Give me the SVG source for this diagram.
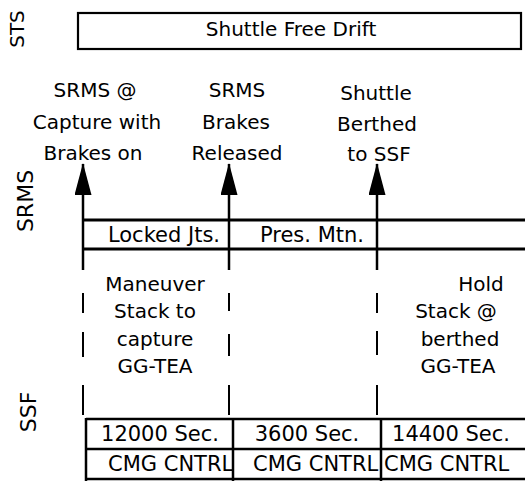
<svg xmlns="http://www.w3.org/2000/svg" width="525" height="481" viewBox="0 0 525 481">
<style>
text{font-family:"DejaVu Sans","Liberation Sans",sans-serif;fill:#000;}
.t20{font-size:20px;text-anchor:middle;}
.t21{font-size:21px;text-anchor:middle;}
.lane{text-anchor:middle;}
.box{fill:#fff;stroke:#000;stroke-width:2.2;}
.ln{stroke:#000;stroke-width:2.5;fill:none;}
.thick{stroke:#000;stroke-width:3;fill:none;}
.dash{stroke:#000;stroke-width:2;fill:none;}
</style>
<defs>
<marker id="ah" markerWidth="32" markerHeight="17" refX="31" refY="8.5" orient="auto" markerUnits="userSpaceOnUse" viewBox="0 0 32 17">
<path d="M32,8.5 L0,0 L0,17 Z" fill="#000"/>
</marker>
</defs>

<g id="lane-labels">
<text class="lane" transform="translate(24,29) rotate(-90)" style="font-size:20px">STS</text>
<text class="lane" transform="translate(33,201) rotate(-90)" style="font-size:22px">SRMS</text>
<text class="lane" transform="translate(36,412) rotate(-90)" style="font-size:22px">SSF</text>
</g>

<g id="sts-free-drift">
<rect class="box" x="78" y="13" width="443" height="36"/>
<text class="t20" x="291" y="36">Shuttle Free Drift</text>
</g>

<g id="event-capture">
<text class="t20" x="95" y="97">SRMS @</text>
<text class="t20" x="97" y="129">Capture with</text>
<text class="t20" x="93" y="160">Brakes on</text>
</g>
<g id="event-release">
<text class="t20" x="237" y="97">SRMS</text>
<text class="t20" x="236" y="129">Brakes</text>
<text class="t20" x="237" y="160">Released</text>
</g>
<g id="event-berthed">
<text class="t20" x="376" y="100">Shuttle</text>
<text class="t20" x="377" y="131">Berthed</text>
<text class="t20" x="379" y="161">to SSF</text>
</g>

<g id="connectors">
<path class="ln" d="M83,270 V164" marker-end="url(#ah)"/>
<path class="ln" d="M229,270 V164" marker-end="url(#ah)"/>
<path class="ln" d="M377,270 V164" marker-end="url(#ah)"/>
<path class="dash" d="M83,293 V313 M83,332 V357 M83,385 V415"/>
<path class="dash" d="M229,293 V311 M229,334 V356 M229,385 V415"/>
<path class="dash" d="M377,293 V313 M377,331 V355 M377,385 V415"/>
</g>

<g id="srms-band">
<path class="thick" d="M83,220 H525 M83,249 H525"/>
<text class="t21" x="164" y="242">Locked Jts.</text>
<text class="t21" x="312" y="242">Pres. Mtn.</text>
</g>

<g id="maneuver">
<text class="t20" x="155" y="291">Maneuver</text>
<text class="t20" x="155" y="318">Stack to</text>
<text class="t20" x="155" y="346">capture</text>
<text class="t20" x="155" y="373">GG-TEA</text>
</g>
<g id="hold">
<text class="t20" x="481" y="291">Hold</text>
<text class="t20" x="456" y="318">Stack @</text>
<text class="t20" x="460" y="346">berthed</text>
<text class="t20" x="458" y="373">GG-TEA</text>
</g>

<g id="ssf-table">
<path class="ln" d="M86,419 H525 M86,449 H525 M86,479 H525 M86,418 V481 M233,419 V481 M381,419 V481"/>
<text class="t21" x="160" y="441">12000 Sec.</text>
<text class="t21" x="307" y="441">3600 Sec.</text>
<text class="t21" x="451" y="441">14400 Sec.</text>
<text x="108" y="471" style="font-size:21px">CMG CNTRL</text>
<text x="253" y="471" style="font-size:21px">CMG CNTRL</text>
<text x="384" y="471" style="font-size:21px">CMG CNTRL</text>
</g>
</svg>
